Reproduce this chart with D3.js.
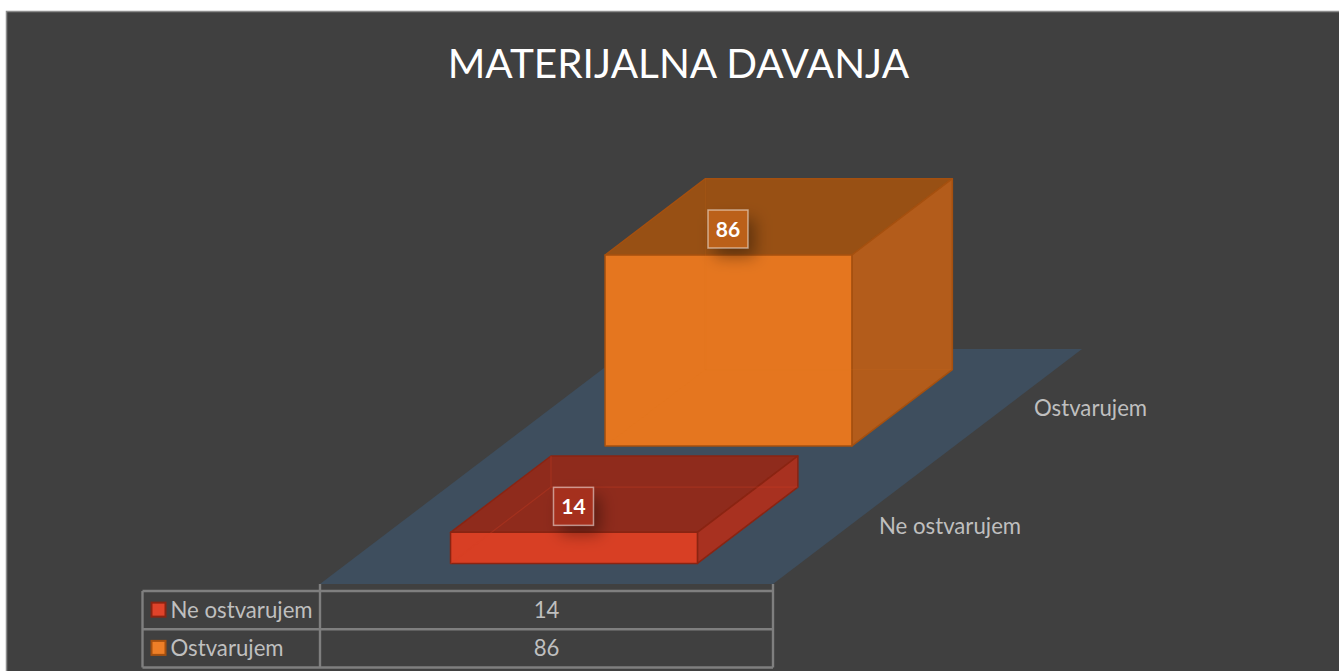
<!DOCTYPE html>
<html>
<head>
<meta charset="utf-8">
<script src="https://cdn.jsdelivr.net/npm/d3@7"></script>
<style>
html,body{margin:0;padding:0;background:#fff;overflow:hidden}
svg{display:block}
text{font-family:Lato,"Open Sans",sans-serif}
</style>
</head>
<body>
<svg id="chart" width="1339" height="671"></svg>
<script>
const chartTitle = "MATERIJALNA DAVANJA";
const categories = ["Ne ostvarujem", "Ostvarujem"];
const values = [14, 86];
const frontColors = ["#d83f24", "#e5761f"];
const topColors = ["#8f2b1c", "#985014"];
const sideColors = ["#a83120", "#b35c1b"];
const edgeColors = ["#8a2412", "#a5500f"];
const swatchColors = ["#e0432a", "#ee7f27"];
const labelFills = ["#a5301d", "#bb6019"];
const hiddenOpacity = [0.28, 0.1];

const svg = d3.select("#chart");
const W = 1339, H = 671;

const defs = svg.append("defs");
const blur = defs.append("filter").attr("id", "shadow")
  .attr("x", "-80%").attr("y", "-80%").attr("width", "260%").attr("height", "260%");
blur.append("feGaussianBlur").attr("stdDeviation", 8);

svg.append("rect").attr("x", 6.5).attr("y", 11.5).attr("width", W).attr("height", H)
  .attr("fill", "#404040").attr("stroke", "#8c8c8c").attr("stroke-width", 1.5);

svg.append("text").attr("x", 678.5).attr("y", 78).attr("text-anchor", "middle")
  .attr("fill", "#ffffff").attr("font-size", 40.5).text(chartTitle);

// Oblique projection: floor width scale, floor depth scale, value height scale
const floor = {x: 320, y: 584, width: 453, dx: 309, dy: -235};
const xScale = d3.scaleLinear().domain([0, 1]).range([0, floor.width]);
const depth = d3.scaleBand().domain(categories).range([0, 1]).paddingInner(0.35).paddingOuter(0.175);
const yScale = d3.scaleLinear().domain([0, 100]).range([0, 222]);
const barX0 = 0.2285, barX1 = 0.7735;

function project(fx, d, v) {
  return [floor.x + xScale(fx) + d * floor.dx, floor.y + d * floor.dy - yScale(v)];
}
const poly = pts => pts.map(p => p.join(",")).join(" ");

svg.append("polygon")
  .attr("points", poly([project(0, 0, 0), project(1, 0, 0), project(1, 1, 0), project(0, 1, 0)]))
  .attr("fill", "#3e4e5e");

// Back to front
d3.range(categories.length).reverse().forEach(i => {
  const c = categories[i], v = values[i];
  const d0 = depth(c), d1 = d0 + depth.bandwidth();
  const g = svg.append("g");
  const face = (pts, fill) => g.append("polygon").attr("points", poly(pts))
    .attr("fill", fill).attr("stroke", edgeColors[i]).attr("stroke-width", 1.5).attr("stroke-linejoin", "round");
  face([project(barX0, d0, v), project(barX1, d0, v), project(barX1, d1, v), project(barX0, d1, v)], topColors[i]);
  face([project(barX1, d0, 0), project(barX1, d1, 0), project(barX1, d1, v), project(barX1, d0, v)], sideColors[i]);
  face([project(barX0, d0, 0), project(barX1, d0, 0), project(barX1, d0, v), project(barX0, d0, v)], frontColors[i]);
  // faint hidden edges seen through the translucent box
  const hidden = [
    [project(barX0, d1, 0), project(barX0, d1, v)],
    [project(barX0, d1, 0), project(barX1, d1, 0)],
    [project(barX0, d1, 0), project(barX0, d0, 0)]
  ];
  hidden.forEach(h => g.append("line")
    .attr("x1", h[0][0]).attr("y1", h[0][1]).attr("x2", h[1][0]).attr("y2", h[1][1])
    .attr("stroke", frontColors[i]).attr("stroke-opacity", hiddenOpacity[i]).attr("stroke-width", 1.2));

  // data label
  const p = project(barX0, d0, v);
  const q = project(barX1, d0, v);
  const cx = (p[0] + q[0]) / 2 - 0.5, cy = p[1] - 26;
  const lw = 40, lh = 38;
  g.append("rect").attr("x", cx - lw / 2 + 7).attr("y", cy - lh / 2 + 9).attr("width", lw).attr("height", lh)
    .attr("fill", "#000").attr("fill-opacity", 0.36).attr("filter", "url(#shadow)");
  g.append("rect").attr("x", cx - lw / 2).attr("y", cy - lh / 2).attr("width", lw).attr("height", lh)
    .attr("fill", labelFills[i])
    .attr("stroke", "#ffffff").attr("stroke-opacity", 0.5).attr("stroke-width", 1.5);
  g.append("text").attr("x", cx).attr("y", cy + 7.5).attr("text-anchor", "middle")
    .attr("fill", "#fff").attr("font-size", 21).attr("font-weight", 700).text(v);
});

// Category labels along the depth axis
const catLabelX = [879, 1034], catLabelY = [534, 416];
categories.forEach((c, i) => {
  svg.append("text").attr("x", catLabelX[i]).attr("y", catLabelY[i])
    .attr("fill", "#bfbfbf").attr("font-size", 22.2).text(c);
});

// Data table
const tLeft = 142.5, tCol = 320, tRight = 773, tTop = 591;
const rowScale = d3.scaleBand().domain(categories).range([tTop, 667.5]);
const gridColor = "#7f7f7f";
const table = svg.append("g");
const hl = (x1, y1, x2, y2) => table.append("line").attr("x1", x1).attr("y1", y1).attr("x2", x2).attr("y2", y2)
  .attr("stroke", gridColor).attr("stroke-width", 2.4);
[tTop, rowScale(categories[1]), 667.5].forEach(y => hl(tLeft, y, tRight, y));
hl(tLeft, tTop, tLeft, 667.5);
hl(tCol, 584, tCol, 667.5);
hl(tRight, 584, tRight, 667.5);

categories.forEach((c, i) => {
  const y = rowScale(c) + rowScale.bandwidth() / 2;
  table.append("rect").attr("x", 151.5).attr("y", y - 7.5).attr("width", 14).attr("height", 14)
    .attr("fill", swatchColors[i]).attr("stroke", edgeColors[i]).attr("stroke-width", 2);
  table.append("text").attr("x", 170.5).attr("y", y + 8)
    .attr("fill", "#bfbfbf").attr("font-size", 22.2).text(c);
  table.append("text").attr("x", (tCol + tRight) / 2).attr("y", y + 8).attr("text-anchor", "middle")
    .attr("fill", "#bfbfbf").attr("font-size", 22.2).text(values[i]);
});
</script>
</body>
</html>
